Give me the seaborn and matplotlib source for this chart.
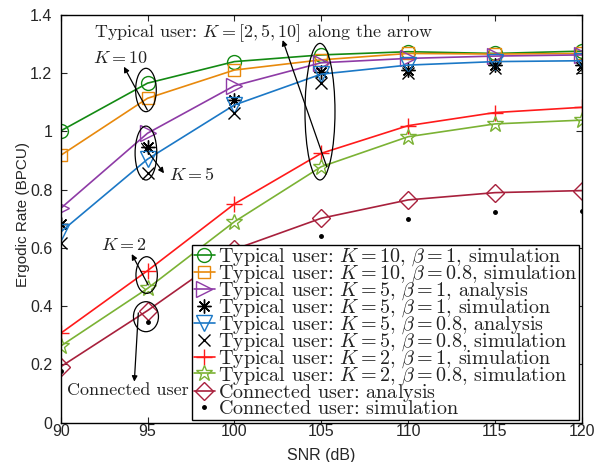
import numpy as np
import pandas as pd
import matplotlib
matplotlib.use('Agg')
import matplotlib.pyplot as plt
import seaborn as sns
from matplotlib.patches import Ellipse

# data
snr = [90, 95, 100, 105, 110, 115, 120]
k10_b1_sim = [1.002, 1.166, 1.240, 1.263, 1.274, 1.268, 1.276]
k10_b08_sim = [0.918, 1.114, 1.211, 1.246, 1.268, 1.266, 1.268]
k5_b1_ana = [0.736, 0.994, 1.157, 1.236, 1.251, 1.259, 1.263]
k5_b1_sim = [0.682, 0.948, 1.108, 1.205, 1.211, 1.228, 1.228]
k5_b08_ana = [0.655, 0.905, 1.091, 1.197, 1.228, 1.240, 1.243]
k5_b08_sim = [0.616, 0.858, 1.062, 1.165, 1.202, 1.217, 1.217]
k2_b1_sim = [0.307, 0.522, 0.751, 0.925, 1.020, 1.065, 1.083]
k2_b08_sim = [0.263, 0.461, 0.690, 0.879, 0.982, 1.026, 1.039]
conn_ana = [0.192, 0.385, 0.595, 0.702, 0.765, 0.790, 0.797]
conn_sim = [0.179, 0.347, 0.550, 0.642, 0.700, 0.724, 0.728]

# mathrm keeps every legend row laid out by mathtext so rows get equal heights
labels = [
    r'Typical user: $K=10$, $\beta=1$, simulation',
    r'Typical user: $K=10$, $\beta=0.8$, simulation',
    r'Typical user: $K=5$, $\beta=1$, analysis',
    r'Typical user: $K=5$, $\beta=1$, simulation',
    r'Typical user: $K=5$, $\beta=0.8$, analysis',
    r'Typical user: $K=5$, $\beta=0.8$, simulation',
    r'Typical user: $K=2$, $\beta=1$, simulation',
    r'Typical user: $K=2$, $\beta=0.8$, simulation',
    r'Connected user: $\mathrm{analysis}$',
    r'Connected user: $\mathrm{simulation}$',
]

sns.set_style('ticks')
plt.rcParams['font.family'] = 'Liberation Sans'
plt.rcParams['mathtext.fontset'] = 'cm'
plt.rcParams['xtick.direction'] = 'in'
plt.rcParams['ytick.direction'] = 'in'
plt.rcParams['xtick.top'] = True
plt.rcParams['ytick.right'] = True

fig = plt.figure(figsize=(6.02, 4.62), dpi=100)
ax = fig.add_axes([0.1008, 0.0851, 0.8655, 0.8824])

series = [
    (k10_b1_sim, '#138A13', 'o', '-', 10),
    (k10_b08_sim, '#E8890C', 's', '-', 9),
    (k5_b1_ana, '#8E3BA6', '>', '-', 11),
    (k5_b1_sim, 'k', (8, 2, 0), 'none', 10),
    (k5_b08_ana, '#1B78C6', 'v', '-', 11),
    (k5_b08_sim, 'k', 'x', 'none', 8),
    (k2_b1_sim, '#FF1A1A', '+', '-', 12),
    (k2_b08_sim, '#7BB234', '*', '-', 12),
    (conn_ana, '#A8203C', 'D', '-', 9),
    (conn_sim, 'k', '.', 'none', 5),
]

for (vals, col, mk, ls, ms), lab in zip(series, labels):
    face = col if mk == '.' else 'none'
    sns.lineplot(x=snr, y=vals, ax=ax, color=col, marker=mk, linestyle=ls,
                 markersize=ms, markerfacecolor=face, markeredgecolor=col,
                 markeredgewidth=1.0, linewidth=1.2, label=lab)

ax.set_xlim(90, 120)
ax.set_ylim(0, 1.4)
ax.set_xticks([90, 95, 100, 105, 110, 115, 120])
ax.set_yticks([0, 0.2, 0.4, 0.6, 0.8, 1.0, 1.2, 1.4])
ax.set_yticklabels(['0', '0.2', '0.4', '0.6', '0.8', '1', '1.2', '1.4'])
ax.tick_params(labelsize=11.5, length=4, width=0.8)
ax.tick_params(axis='x', pad=1)
ax.tick_params(axis='y', pad=6)
ax.set_xlabel('SNR (dB)', fontsize=11.5)
ax.set_ylabel('Ergodic Rate (BPCU)', fontsize=11)
ax.xaxis.set_label_coords(0.5, -0.062)
ax.yaxis.set_label_coords(-0.058, 0.51)
for s in ax.spines.values():
    s.set_linewidth(1.0)
    s.set_color('k')

# annotations
tfont = dict(family='cmr10', fontsize=13, color='#222222')
ax.text(91.92, 1.338, r'Typical user: $K=[2,5,10]$ along the arrow', ha='left', va='center', **tfont)
ax.text(93.44, 1.252, r'$K=10$', ha='center', va='center', **tfont)
ax.text(97.53, 0.854, r'$K=5$', ha='center', va='center', **tfont)
ax.text(93.64, 0.610, r'$K=2$', ha='center', va='center', **tfont)
ax.text(93.89, 0.112, 'Connected user', ha='center', va='center', **tfont)

ellipses = [
    (104.93, 1.068, 1.727, 0.469),
    (94.91, 1.1425, 1.19, 0.149),
    (94.91, 0.926, 1.25, 0.185),
    (94.95, 0.507, 1.23, 0.126),
    (94.91, 0.364, 1.44, 0.103),
]
for cx, cy, w, h in ellipses:
    ax.add_patch(Ellipse((cx, cy), w, h, fill=False, edgecolor='k', linewidth=0.9, zorder=5))

arrows = [
    ((105.32, 0.879), (102.78, 1.314)),
    ((94.99, 1.074), (93.64, 1.2225)),
    ((94.66, 0.9595), (95.95, 0.8565)),
    ((95.04, 0.473), (94.09, 0.579)),
    ((94.47, 0.377), (94.24, 0.141)),
]
for start, tip in arrows:
    ax.annotate('', xy=tip, xytext=start,
                arrowprops=dict(arrowstyle='-|>', color='k', lw=0.9, mutation_scale=8,
                                shrinkA=0, shrinkB=0), zorder=6)

leg = ax.legend(loc='lower right', prop={'family': 'cmr10', 'size': 14.5},
                frameon=True, fancybox=False, edgecolor='k', framealpha=1,
                handlelength=1.0, handletextpad=0.15, labelspacing=-0.23,
                borderpad=0.1, borderaxespad=0.15)
leg.get_frame().set_linewidth(1.0)
for t in leg.get_texts():
    t.set_color('#222222')

fig.savefig('out.png', dpi=100)
